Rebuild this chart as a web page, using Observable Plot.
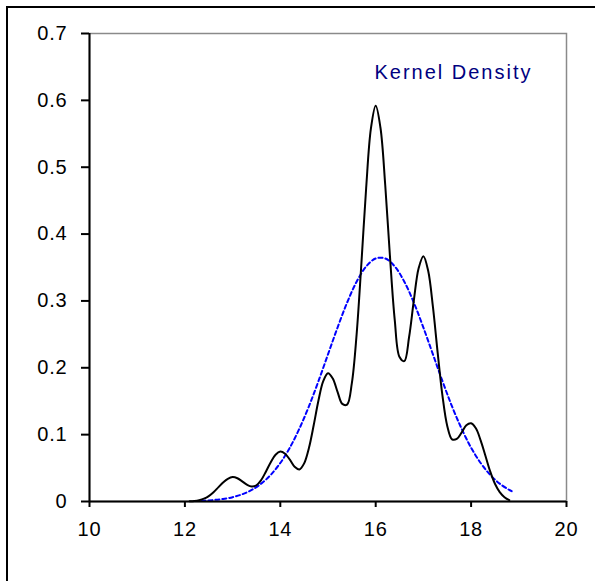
<!DOCTYPE html>
<html>
<head>
<meta charset="utf-8">
<script src="https://cdn.jsdelivr.net/npm/d3@7"></script>
<script src="https://cdn.jsdelivr.net/npm/@observablehq/plot@0.6"></script>
<style>
  html, body { margin: 0; padding: 0; background: #fff; overflow: hidden; }
  #wrap { position: relative; width: 595px; height: 581px; overflow: hidden; }
  #border { position: absolute; left: 6px; top: 6px; width: 700px; height: 700px; border: 2px solid #000; box-sizing: border-box; }
  #chart { position: absolute; left: 0; top: 0; }
  #chart svg text { font-size: 20px; }
  #chart svg text.tick { letter-spacing: 0.8px; }
</style>
</head>
<body>
<div id="wrap"><div id="border"></div><div id="chart"></div></div>
<script>
const xDomain = [10, 20];
const yDomain = [0, 0.7];
const xTicks = [10, 12, 14, 16, 18, 20];
const xTickLabels = ["10", "12", "14", "16", "18", "20"];
const yTicks = [0, 0.1, 0.2, 0.3, 0.4, 0.5, 0.6, 0.7];
const yTickLabels = ["0", "0.1", "0.2", "0.3", "0.4", "0.5", "0.6", "0.7"];
const legendLabel = "Kernel Density";

// Kernel density estimate (black solid)
const kdeX = [12.1,12.2,12.3,12.4,12.5,12.6,12.7,12.8,12.9,13.0,
  13.1,13.2,13.3,13.4,13.5,13.6,13.7,13.8,13.9,14.0,
  14.1,14.2,14.3,14.4,14.5,14.6,14.7,14.8,14.9,15.0,
  15.1,15.2,15.3,15.4,15.5,15.6,15.7,15.8,15.9,16.0,
  16.1,16.2,16.3,16.4,16.5,16.6,16.7,16.8,16.9,17.0,
  17.1,17.2,17.3,17.4,17.5,17.6,17.7,17.8,17.9,18.0,
  18.1,18.2,18.3,18.4,18.5,18.6,18.7,18.8];
const kdeY = [0.0003,0.0008,0.0020,0.0042,0.0081,0.0139,0.0211,0.0284,0.0340,0.0365,
  0.0348,0.0302,0.0252,0.0225,0.0243,0.0322,0.0450,0.0588,0.0700,0.0748,
  0.0715,0.0625,0.0520,0.0480,0.0570,0.0800,0.1140,0.1510,0.1800,0.1920,
  0.1840,0.1640,0.1460,0.1450,0.1770,0.2500,0.3560,0.4690,0.5580,0.5920,
  0.5590,0.4730,0.3655,0.2710,0.2160,0.2100,0.2460,0.3010,0.3490,0.3670,
  0.3450,0.2910,0.2220,0.1580,0.1130,0.0930,0.0935,0.1030,0.1140,0.1170,
  0.1095,0.0915,0.0685,0.0450,0.0265,0.0140,0.0065,0.0020];

// Normal reference curve (blue dashed)
const normX = [12.2,12.4,12.6,12.8,13.0,13.2,13.4,13.6,13.8,14.0,
  14.2,14.4,14.6,14.8,15.0,15.2,15.4,15.6,15.8,16.0,
  16.2,16.4,16.6,16.8,17.0,17.2,17.4,17.6,17.8,18.0,
  18.2,18.4,18.6,18.8,18.85];
const normY = [0.0006,0.0012,0.0022,0.0038,0.0065,0.0108,0.0173,0.0267,0.0399,0.0576,
  0.0805,0.1090,0.1423,0.1800,0.2201,0.2601,0.2974,0.3288,0.3515,0.3635,
  0.3635,0.3515,0.3288,0.2974,0.2601,0.2201,0.1800,0.1423,0.1090,0.0805,
  0.0576,0.0399,0.0267,0.0173,0.0154];

const kde = kdeX.map((x, i) => ({x, y: kdeY[i]}));
const norm = normX.map((x, i) => ({x, y: normY[i]}));

const font = "'Liberation Sans', Arial, sans-serif";

const plot = Plot.plot({
  width: 595,
  height: 581,
  marginLeft: 89,
  marginTop: 33,
  marginRight: 29,
  marginBottom: 80,
  style: {fontFamily: font, fontSize: "20px", color: "#000", background: "transparent"},
  x: {domain: xDomain, ticks: xTicks},
  y: {domain: yDomain, ticks: yTicks},
  marks: [
    Plot.frame({stroke: "#8a8a8a", strokeWidth: 1.5}),
    Plot.line(norm, {x: "x", y: "y", stroke: "#0000ff", strokeWidth: 2, strokeDasharray: "4,3", curve: "catmull-rom"}),
    Plot.line(kde, {x: "x", y: "y", stroke: "#000", strokeWidth: 2, curve: "catmull-rom"}),
    Plot.ruleX([xDomain[0]], {stroke: "#000", strokeWidth: 2}),
    Plot.ruleY([yDomain[0]], {stroke: "#000", strokeWidth: 2}),
    Plot.axisX({ticks: xTicks, tickSize: 6, tickPadding: 14, strokeWidth: 2, fontSize: 20,
      tickFormat: (d, i) => xTickLabels[i], label: null}),
    Plot.axisY({ticks: yTicks, tickSize: 8, tickPadding: 14, strokeWidth: 2, fontSize: 20,
      tickFormat: (d, i) => yTickLabels[i], label: null}),
    Plot.text([legendLabel], {frameAnchor: "top-right", text: d => d, textAnchor: "end", lineAnchor: "top",
      dx: -34, dy: 31, fill: "#000080", fontSize: 20, fontFamily: font})
  ]
});
[...plot.querySelectorAll("text")].forEach(t => {
  if (t.textContent === legendLabel) {
    t.setAttribute("letter-spacing", "2");
  } else {
    t.classList.add("tick");
  }
});
document.getElementById("chart").appendChild(plot);
</script>
</body>
</html>
